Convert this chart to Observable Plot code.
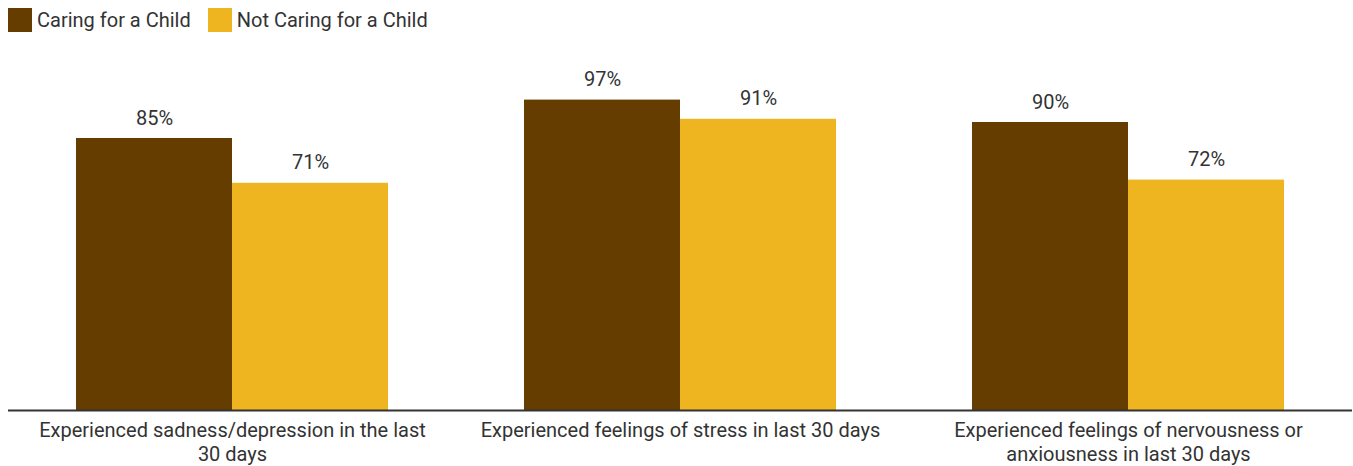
<!DOCTYPE html>
<html>
<head>
<meta charset="utf-8">
<script src="https://cdn.jsdelivr.net/npm/d3@7"></script>
<script src="https://cdn.jsdelivr.net/npm/@observablehq/plot@0.6"></script>
<style>
  html, body { margin: 0; padding: 0; background: #fff; }
  body { width: 1353px; height: 466px; overflow: hidden; font-family: Roboto, "Noto Sans", sans-serif; }
  .legend { display: flex; align-items: center; height: 36px; padding-left: 8px; box-sizing: border-box; padding-top: 4px; }
  .legend .item { display: flex; align-items: center; margin-right: 17px; font-size: 20px; color: #333; }
  .legend .sw { width: 24px; height: 24px; margin-right: 5px; }
  svg { display: block; }
</style>
</head>
<body>
<div class="legend" id="legend"></div>
<div id="chart"></div>
<script>
// Survey categories (x groups)
const categories = [
  "Experienced sadness/depression in the last 30 days",
  "Experienced feelings of stress in last 30 days",
  "Experienced feelings of nervousness or anxiousness in last 30 days"
];
// How each category label wraps on the axis
const categoryLines = [
  ["Experienced sadness/depression in the last", "30 days"],
  ["Experienced feelings of stress in last 30 days"],
  ["Experienced feelings of nervousness or", "anxiousness in last 30 days"]
];
const seriesNames = ["Caring for a Child", "Not Caring for a Child"];
const seriesColors = ["#663d00", "#eeb521"];
const caringValues = [85, 97, 90];
const notCaringValues = [71, 91, 72];

const rows = [];
categories.forEach((c, i) => {
  rows.push({category: c, series: seriesNames[0], value: caringValues[i]});
  rows.push({category: c, series: seriesNames[1], value: notCaringValues[i]});
});
const wrapped = new Map(categories.map((c, i) => [c, categoryLines[i].join("\n")]));

// Legend
const legend = document.getElementById("legend");
seriesNames.forEach((s, i) => {
  const item = document.createElement("div");
  item.className = "item";
  const sw = document.createElement("div");
  sw.className = "sw";
  sw.style.background = seriesColors[i];
  const label = document.createElement("span");
  label.textContent = s;
  item.appendChild(sw);
  item.appendChild(label);
  legend.appendChild(item);
});

const chart = Plot.plot({
  width: 1353,
  height: 430,
  marginLeft: 8,
  marginRight: 1,
  marginTop: 54,
  marginBottom: 56,
  style: {fontFamily: "Roboto, 'Noto Sans', sans-serif", background: "#fff"},
  fx: {domain: categories, paddingInner: 0, paddingOuter: 0, axis: null, label: null},
  x: {domain: seriesNames, paddingInner: 0, paddingOuter: 0.4286, axis: null, label: null},
  y: {domain: [0, 100], axis: null},
  color: {domain: seriesNames, range: seriesColors},
  marks: [
    Plot.barY(rows, {fx: "category", x: "series", y: "value", fill: "series"}),
    Plot.text(rows, {
      fx: "category", x: "series", y: "value",
      text: d => `${d.value}%`,
      lineAnchor: "bottom", dy: -14,
      fontSize: 20, fill: "#333"
    }),
    Plot.ruleY([0], {stroke: "#333", strokeWidth: 1.8}),
    Plot.axisFx({
      anchor: "bottom",
      tickSize: 0,
      tickPadding: 10,
      fontSize: 20,
      lineHeight: 1.18,
      fill: "#333",
      label: null,
      tickFormat: d => wrapped.get(d)
    })
  ]
});
document.getElementById("chart").appendChild(chart);
</script>
</body>
</html>
